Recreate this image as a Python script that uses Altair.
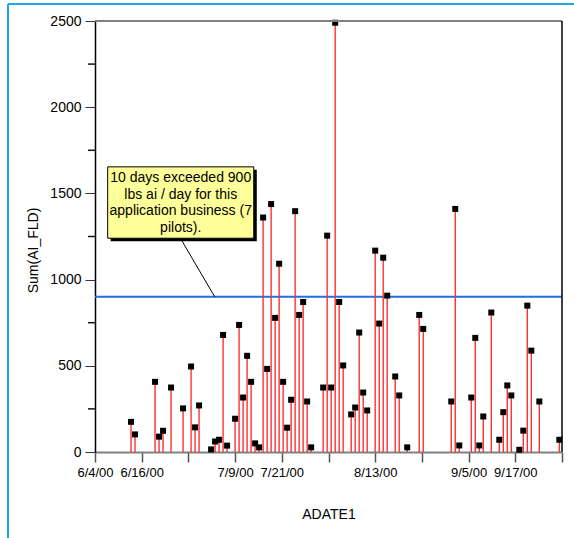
import json
import altair as alt
import pandas as pd

# ---------------- data ----------------
dates = [
    "2000-06-13", "2000-06-14", "2000-06-19", "2000-06-20", "2000-06-21", "2000-06-23",
    "2000-06-26", "2000-06-28", "2000-06-29", "2000-06-30", "2000-07-03", "2000-07-04",
    "2000-07-05", "2000-07-06", "2000-07-07", "2000-07-09", "2000-07-10", "2000-07-11",
    "2000-07-12", "2000-07-13", "2000-07-14", "2000-07-15", "2000-07-16", "2000-07-17",
    "2000-07-18", "2000-07-19", "2000-07-20", "2000-07-21", "2000-07-22", "2000-07-23",
    "2000-07-24", "2000-07-25", "2000-07-26", "2000-07-27", "2000-07-28", "2000-07-31",
    "2000-08-01", "2000-08-02", "2000-08-03", "2000-08-04", "2000-08-05", "2000-08-07",
    "2000-08-08", "2000-08-09", "2000-08-10", "2000-08-11", "2000-08-13", "2000-08-14",
    "2000-08-15", "2000-08-16", "2000-08-18", "2000-08-19", "2000-08-21", "2000-08-24",
    "2000-08-25", "2000-09-01", "2000-09-02", "2000-09-03", "2000-09-06", "2000-09-07",
    "2000-09-08", "2000-09-09", "2000-09-11", "2000-09-13", "2000-09-14", "2000-09-15",
    "2000-09-16", "2000-09-18", "2000-09-19", "2000-09-20", "2000-09-21", "2000-09-23",
    "2000-09-28",
]
values = [
    175, 102, 407, 89, 123, 374,
    253, 496, 143, 270, 15, 61,
    71, 679, 37, 193, 737, 316,
    558, 407, 50, 27, 1360, 482,
    1438, 778, 1092, 407, 141, 303,
    1397, 795, 870, 293, 27, 374,
    1255, 374, 2490, 870, 502, 218,
    258, 693, 345, 241, 1168, 745,
    1127, 907, 438, 328, 27, 795,
    714, 293, 1410, 38, 316, 662,
    38, 206, 809, 71, 231, 386,
    328, 13, 124, 849, 588, 293,
    71,
]
y_major = [0, 500, 1000, 1500, 2000, 2500]
y_minor = [250, 750, 1250, 1750, 2250]
x_labels = ["6/4/00", "6/16/00", "7/9/00", "7/21/00", "8/13/00", "9/5/00", "9/17/00"]
threshold = 900
note_lines = ["10 days exceeded 900", "lbs ai / day for this",
              "application business (7", "pilots)."]

FONT = "Liberation Sans, Arial, Helvetica"


def dt(m, d, h=0):
    return alt.DateTime(year=2000, month=m, date=d, hours=h, utc=True)


# axis ticks every 280 hours starting 6/4/00
tick_vals = [dt(6, 4), dt(6, 15, 16), dt(6, 27, 8), dt(7, 9), dt(7, 20, 16), dt(8, 1, 8),
             dt(8, 13), dt(8, 24, 16), dt(9, 5, 8), dt(9, 17), dt(9, 28, 16)]
x_domain = [dt(6, 4), dt(9, 28, 16)]

# annotation anchor (data units)
box_x = [dt(6, 7, 4), dt(7, 13, 16)]
box_y = [1654, 1240]
text_x = dt(6, 25, 10)
text_y = 1589
lead_from = (dt(6, 25, 14), 1230)
lead_to = (dt(7, 3, 22), threshold)

df = pd.DataFrame({"date": dates, "value": values})
one = alt.Data(values=[{}])

W, H = 467, 431

lab = "utcFormat(datum.value + 43200000, '%-m/%-d/%y')"
label_expr = f"indexof({json.dumps(x_labels)}, {lab}) >= 0 ? {lab} : ''"

x_enc = alt.X(
    "date:T",
    scale=alt.Scale(type="utc", domain=x_domain),
    axis=alt.Axis(
        values=tick_vals, labelExpr=label_expr, labelOverlap=False, labelFlush=False,
        tickSize=10, tickColor="#555555", tickWidth=1.5,
        domainColor="#808080", domainWidth=2,
        labelFont=FONT, labelFontSize=13, labelColor="#000000", labelPadding=4,
        title="ADATE1", titleFont=FONT, titleFontSize=14, titleFontWeight="normal",
        titleColor="#000000", titleY=62, titleBaseline="middle", grid=False,
    ),
)
y_enc = alt.Y(
    "value:Q",
    scale=alt.Scale(domain=[0, 2500], nice=False),
    axis=alt.Axis(
        values=y_major, format="d", tickSize=10, tickColor="#333333",
        domainColor="#000000", domainWidth=1.5, labelFont=FONT, labelFontSize=14,
        labelColor="#000000", labelPadding=4, title="Sum(AI_FLD)", titleFont=FONT,
        titleFontSize=14, titleFontWeight="normal", titleColor="#000000",
        titleX=-62, titleY=229, titleBaseline="middle", titleAlign="center", grid=False,
    ),
)

stems = alt.Chart(df).mark_rule(color="#ff3030", strokeWidth=1.4).encode(
    x=x_enc, y=y_enc, y2=alt.datum(0)
)
points = alt.Chart(df).mark_square(size=36, color="#000000", opacity=1).encode(
    x="date:T", y="value:Q"
)
minor_layers = [
    alt.Chart(one).mark_rule(color="#111111", strokeWidth=1.5).encode(
        y=alt.datum(v), x=alt.value(-7), x2=alt.value(0))
    for v in y_minor
]
thr = alt.Chart(one).mark_rule(color="#1f6fe8", strokeWidth=2).encode(
    y=alt.datum(threshold)
)
lead = alt.Chart(one).mark_rule(color="#000000", strokeWidth=1).encode(
    x=alt.datum(lead_from[0]), y=alt.datum(lead_from[1]),
    x2=alt.datum(lead_to[0]), y2=alt.datum(lead_to[1]),
)
shadow = alt.Chart(one).mark_rect(color="#000000", xOffset=3, x2Offset=3,
                                  yOffset=3, y2Offset=3).encode(
    x=alt.datum(box_x[0]), x2=alt.datum(box_x[1]),
    y=alt.datum(box_y[0]), y2=alt.datum(box_y[1]),
)
box = alt.Chart(one).mark_rect(color="#ffff99", stroke="#000000", strokeWidth=1).encode(
    x=alt.datum(box_x[0]), x2=alt.datum(box_x[1]),
    y=alt.datum(box_y[0]), y2=alt.datum(box_y[1]),
)
note = alt.Chart(one).mark_text(
    text=note_lines, font=FONT, fontSize=14, lineHeight=16.7, align="center",
    baseline="middle", color="#000000",
).encode(x=alt.datum(text_x), y=alt.datum(text_y))

top_border = alt.Chart(one).mark_rule(color="#808080", strokeWidth=2).encode(
    x=alt.value(0), x2=alt.value(W), y=alt.value(0)
)
right_border = alt.Chart(one).mark_rule(color="#000000", strokeWidth=1.5).encode(
    x=alt.value(W), y=alt.value(0), y2=alt.value(H)
)
frame_top = alt.Chart(one).mark_rule(color="#1fa8e6", strokeWidth=2).encode(
    x=alt.value(-87), x2=alt.value(W + 20), y=alt.value(-17)
)
frame_left = alt.Chart(one).mark_rule(color="#1fa8e6", strokeWidth=2).encode(
    x=alt.value(-87), y=alt.value(-17), y2=alt.value(H + 100)
)

chart = alt.layer(
    frame_top, frame_left, thr, stems, points, *minor_layers, lead, shadow, box, note,
    top_border, right_border,
).properties(
    width=W, height=H,
    autosize=alt.AutoSizeParams(type="none"),
    padding={"left": 95, "top": 21, "right": 12, "bottom": 86},
    background="#ffffff",
).configure_view(stroke=None)

chart.save("out.html", embed_options={"renderer": "svg", "actions": False})
